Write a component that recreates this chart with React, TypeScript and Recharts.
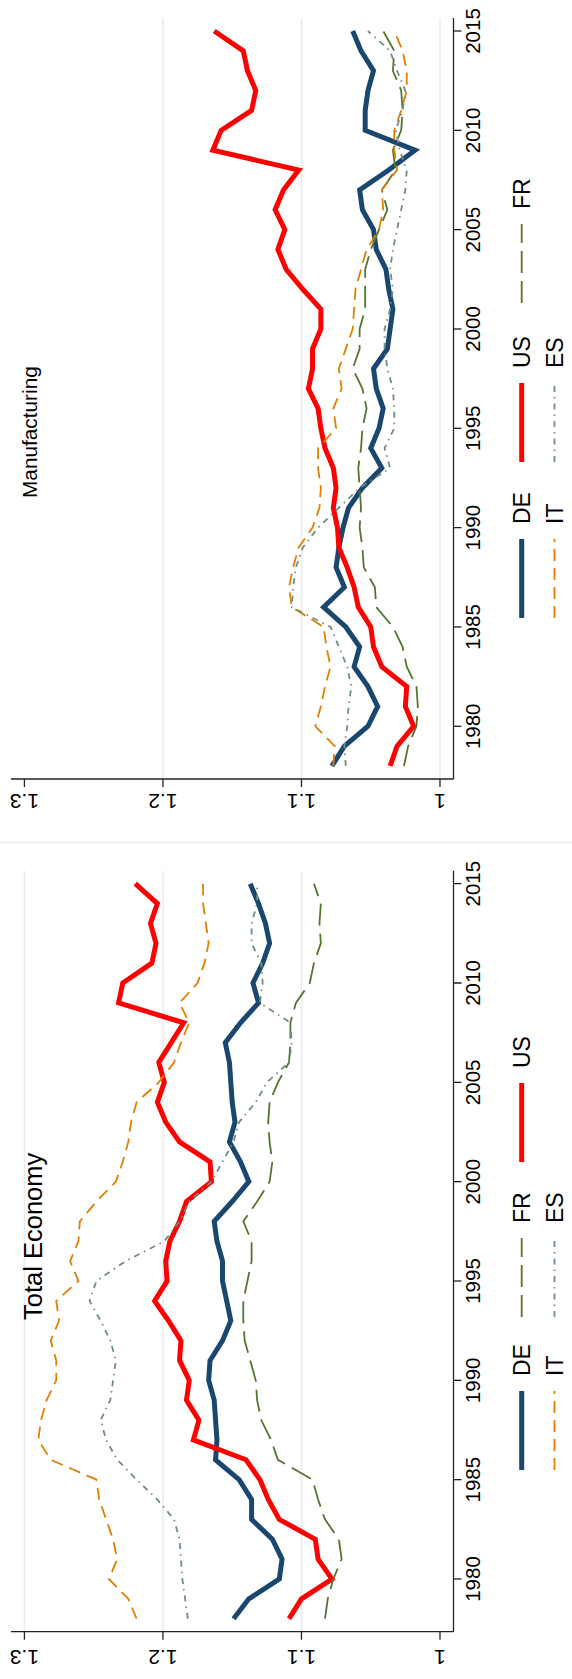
import React from "react";
import { LineChart, Line, XAxis, YAxis, ReferenceLine } from "recharts";

// figure is drawn landscape (1679 x 572) and turned a quarter to the left
const W = 1679;
const H = 572;
const FONT = '"Liberation Sans", Arial, Helvetica, sans-serif';

const YEARS = [
  1978, 1979, 1980, 1981, 1982, 1983, 1984, 1985, 1986, 1987,
  1988, 1989, 1990, 1991, 1992, 1993, 1994, 1995, 1996, 1997,
  1998, 1999, 2000, 2001, 2002, 2003, 2004, 2005, 2006, 2007,
  2008, 2009, 2010, 2011, 2012, 2013, 2014, 2015,
];
const YEAR_TICKS = [1980, 1985, 1990, 1995, 2000, 2005, 2010, 2015];
const VALUE_TICKS = [1, 1.1, 1.2, 1.3];

// Total Economy
const TOT_DE = [
  1.149, 1.138, 1.116, 1.114, 1.121, 1.136, 1.136, 1.145, 1.162, 1.161,
  1.162, 1.163, 1.167, 1.166, 1.157, 1.151, 1.154, 1.157, 1.157, 1.161,
  1.163, 1.15, 1.138, 1.144, 1.152, 1.148, 1.15, 1.151, 1.152, 1.155,
  1.144, 1.131, 1.135, 1.128, 1.123, 1.126, 1.131, 1.137,
];
const TOT_US = [
  1.109, 1.1, 1.078, 1.088, 1.09, 1.116, 1.124, 1.13, 1.14, 1.178,
  1.174, 1.183, 1.181, 1.188, 1.187, 1.196, 1.206, 1.197, 1.198, 1.195,
  1.188, 1.183, 1.165, 1.166, 1.188, 1.198, 1.204, 1.199, 1.203, 1.194,
  1.185, 1.232, 1.229, 1.208, 1.205, 1.209, 1.204, 1.22,
];
const TOT_FR = [
  1.083, 1.081, 1.077, 1.071, 1.073, 1.083, 1.088, 1.092, 1.117, 1.122,
  1.129, 1.132, 1.133, 1.137, 1.141, 1.142, 1.142, 1.139, 1.136, 1.136,
  1.142, 1.132, 1.123, 1.121, 1.123, 1.124, 1.123, 1.117, 1.109, 1.108,
  1.108, 1.104, 1.094, 1.091, 1.086, 1.087, 1.086, 1.091,
];
const TOT_IT = [
  1.219, 1.225, 1.239, 1.233, 1.236, 1.241, 1.246, 1.248, 1.281, 1.29,
  1.288, 1.284, 1.277, 1.277, 1.281, 1.275, 1.277, 1.261, 1.267, 1.261,
  1.26, 1.248, 1.234, 1.229, 1.225, 1.223, 1.219, 1.203, 1.192, 1.187,
  1.181, 1.188, 1.175, 1.17, 1.167, 1.169, 1.171, 1.171,
];
const TOT_ES = [
  1.182, 1.184, 1.186, 1.187, 1.188, 1.192, 1.204, 1.219, 1.233, 1.241,
  1.245, 1.238, 1.236, 1.234, 1.238, 1.245, 1.253, 1.248, 1.227, 1.199,
  1.188, 1.181, 1.165, 1.157, 1.149, 1.145, 1.133, 1.125, 1.109, 1.107,
  1.108, 1.13, 1.128, 1.129, 1.136, 1.136, 1.132, 1.132,
];

// Manufacturing
const MAN_DE = [
  1.078, 1.069, 1.052, 1.045, 1.052, 1.062, 1.058, 1.068, 1.084, 1.069,
  1.075, 1.073, 1.07, 1.066, 1.056, 1.042, 1.05, 1.044, 1.041, 1.046,
  1.048, 1.038, 1.036, 1.034, 1.037, 1.039, 1.046, 1.048, 1.056, 1.058,
  1.037, 1.018, 1.054, 1.054, 1.052, 1.048, 1.057, 1.063,
];
const MAN_US = [
  1.036, 1.031, 1.019, 1.025, 1.024, 1.042, 1.048, 1.05, 1.059, 1.062,
  1.067, 1.073, 1.074, 1.077, 1.075, 1.077, 1.083, 1.086, 1.088, 1.095,
  1.092, 1.092, 1.086, 1.086, 1.099, 1.111, 1.117, 1.112, 1.119, 1.113,
  1.102, 1.164, 1.158, 1.136, 1.133, 1.139, 1.142, 1.163,
];
const MAN_FR = [
  1.026, 1.023, 1.017, 1.016, 1.017, 1.024, 1.027, 1.034, 1.046, 1.047,
  1.055, 1.056, 1.058, 1.057, 1.058, 1.059, 1.057, 1.056, 1.053, 1.056,
  1.063, 1.058, 1.058, 1.054, 1.054, 1.054, 1.05, 1.044, 1.038, 1.042,
  1.032, 1.034, 1.028, 1.027, 1.028, 1.034, 1.033, 1.041,
];
const MAN_IT = [
  1.077, 1.076, 1.09, 1.086, 1.083, 1.079, 1.082, 1.084, 1.107, 1.109,
  1.106, 1.102, 1.092, 1.087, 1.086, 1.088, 1.088, 1.075, 1.077, 1.071,
  1.073, 1.068, 1.063, 1.062, 1.061, 1.057, 1.053, 1.044, 1.041, 1.042,
  1.031, 1.033, 1.033, 1.028, 1.024, 1.024, 1.027, 1.033,
];
const MAN_ES = [
  1.068, 1.069, 1.067, 1.066, 1.064, 1.067, 1.073, 1.079, 1.107, 1.106,
  1.104, 1.099, 1.088, 1.073, 1.058, 1.036, 1.04, 1.033, 1.033, 1.034,
  1.038, 1.04, 1.04, 1.036, 1.034, 1.036, 1.034, 1.031, 1.028, 1.025,
  1.024, 1.029, 1.032, 1.027, 1.025, 1.031, 1.036, 1.052,
];

const SERIES = {
  DE: { color: "#1a476f", width: 5, dash: undefined },
  US: { color: "#ff0000", width: 5, dash: undefined },
  FR: { color: "#55752f", width: 1.8, dash: "22 8" },
  IT: { color: "#e37e00", width: 1.8, dash: "12 7" },
  ES: { color: "#6e8e84", width: 1.8, dash: "6 5 1.5 5" },
};
const DRAW_ORDER = ["DE", "US", "FR", "IT", "ES"];

const totalData = YEARS.map((year, i) => ({
  year,
  DE: TOT_DE[i],
  US: TOT_US[i],
  FR: TOT_FR[i],
  IT: TOT_IT[i],
  ES: TOT_ES[i],
}));
const manufData = YEARS.map((year, i) => ({
  year,
  DE: MAN_DE[i],
  US: MAN_US[i],
  FR: MAN_FR[i],
  IT: MAN_IT[i],
  ES: MAN_ES[i],
}));

const GRID = "#e3ebf0";
const AXIS = "#222";

function ValueTick(props: any) {
  const { x, y, payload } = props;
  const v = payload.value;
  const label = v === 1 ? "1" : v.toFixed(1);
  return (
    <text
      x={x}
      y={y}
      transform={`rotate(-90, ${x}, ${y})`}
      textAnchor="middle"
      fontSize={21}
      fontFamily={FONT}
      fill="#000"
    >
      {label}
    </text>
  );
}

function Panel({
  left,
  width,
  yAxisW,
  rightM,
  labelGap,
  data,
  grid,
}: {
  left: number;
  width: number;
  yAxisW: number;
  rightM: number;
  labelGap: number;
  data: any[];
  grid: number[];
}) {
  return (
    <div style={{ position: "absolute", left, top: 0 }}>
      <LineChart
        width={width}
        height={H}
        data={data}
        margin={{ top: 10.9, right: rightM, bottom: 78.5, left: 0 }}
      >
        {grid.map((g) => (
          <ReferenceLine key={g} y={g} stroke={GRID} strokeWidth={1.4} />
        ))}
        <XAxis
          dataKey="year"
          type="number"
          domain={[1977.346, 2015.654]}
          allowDataOverflow
          ticks={YEAR_TICKS}
          height={40}
          tickSize={8}
          tickMargin={3.5}
          axisLine={{ stroke: AXIS, strokeWidth: 1.3 }}
          tickLine={{ stroke: AXIS, strokeWidth: 1.3 }}
          tick={{ fill: "#000", fontSize: 20.5, fontFamily: FONT }}
        />
        <YAxis
          type="number"
          domain={[0.99025, 1.30975]}
          allowDataOverflow
          ticks={VALUE_TICKS}
          width={yAxisW}
          tickSize={8}
          tickMargin={labelGap}
          axisLine={{ stroke: AXIS, strokeWidth: 1.3 }}
          tickLine={{ stroke: AXIS, strokeWidth: 1.3 }}
          tick={<ValueTick />}
        />
        {DRAW_ORDER.map((k) => {
          const s = (SERIES as any)[k];
          return (
            <Line
              key={k}
              dataKey={k}
              type="linear"
              stroke={s.color}
              strokeWidth={s.width}
              strokeDasharray={s.dash}
              strokeLinejoin="miter"
              dot={false}
              activeDot={false}
              isAnimationActive={false}
            />
          );
        })}
      </LineChart>
    </div>
  );
}

function LegendItem({ x, y, name }: { x: number; y: number; name: string }) {
  const s = (SERIES as any)[name];
  return (
    <g>
      <line
        x1={x}
        y1={y}
        x2={x + 79}
        y2={y}
        stroke={s.color}
        strokeWidth={s.width}
        strokeDasharray={s.dash}
      />
      <text x={x + 94} y={y + 8.3} fontSize={23} fontFamily={FONT} fill="#000">
        {name}
      </text>
    </g>
  );
}

export default function App() {
  const row1 = 521.7;
  const row2 = 554.5;
  return (
    <div
      style={{
        position: "absolute",
        left: 0,
        top: 0,
        width: H,
        height: W,
        overflow: "hidden",
        background: "#fff",
      }}
    >
      <div
        style={{
          position: "absolute",
          left: 0,
          top: 0,
          width: W,
          height: H,
          transformOrigin: "0 0",
          transform: `translateY(${W}px) rotate(-90deg)`,
          background: "#fff",
        }}
      >
        <Panel
          left={0}
          width={836}
          yAxisW={47.3}
          rightM={27.7}
          labelGap={10}
          data={totalData}
          grid={[1.1, 1.2, 1.3]}
        />
        <Panel
          left={836.7}
          width={842.3}
          yAxisW={63}
          rightM={18.3}
          labelGap={7}
          data={manufData}
          grid={[1, 1.1, 1.2]}
        />
        <svg
          width={W}
          height={H}
          style={{ position: "absolute", left: 0, top: 0, pointerEvents: "none" }}
        >
          <line x1={836.7} y1={0} x2={836.7} y2={H} stroke="#e4ecf1" strokeWidth={1.2} />
          <text x={359} y={41.7} fontSize={25.5} fontFamily={FONT} fill="#000">
            Total Economy
          </text>
          <text x={1181} y={36.5} fontSize={20.8} fontFamily={FONT} fill="#000">
            Manufacturing
          </text>
          <LegendItem x={209} y={row1} name="DE" />
          <LegendItem x={362} y={row1} name="FR" />
          <LegendItem x={517} y={row1} name="US" />
          <LegendItem x={209} y={row2} name="IT" />
          <LegendItem x={362} y={row2} name="ES" />
          <LegendItem x={1061} y={row1} name="DE" />
          <LegendItem x={1217} y={row1} name="US" />
          <LegendItem x={1376} y={row1} name="FR" />
          <LegendItem x={1061} y={row2} name="IT" />
          <LegendItem x={1217} y={row2} name="ES" />
        </svg>
      </div>
    </div>
  );
}
